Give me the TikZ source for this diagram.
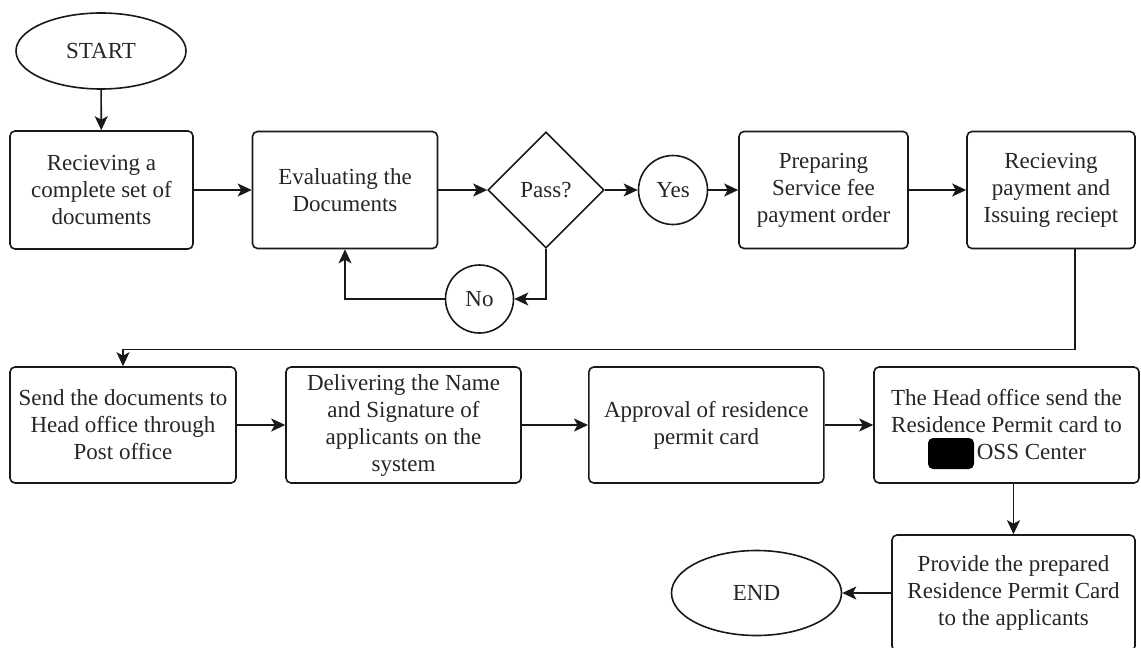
\documentclass[tikz,border=0pt]{standalone}
\usepackage{fontspec}
\setmainfont{Liberation Serif}
\usetikzlibrary{shapes.geometric,arrows.meta}

\begin{document}
\begin{tikzpicture}[x=1pt, y=-1pt,
  every node/.style={font=\fontsize{23}{27}\selectfont, text=black!85, align=center, inner sep=0pt},
  stepbox/.style={draw=black!90, line width=1.6pt, rounded corners=5pt},
  terminal/.style={draw=black!90, line width=1.6pt, ellipse},
  decision/.style={draw=black!90, line width=1.6pt, diamond, minimum width=116pt, minimum height=116pt},
  answer/.style={draw=black!90, line width=1.6pt, circle},
  flow/.style={draw=black!90, line width=1.6pt, -{Stealth[length=14pt, width=13pt, inset=3.5pt]}}
]
% page frame
\clip (0,0) rectangle (1141,648);
\fill[white] (0,0) rectangle (1141,648);

% first row
\node[terminal, minimum width=170pt, minimum height=76pt] (start) at (101,51) {START};
\node[stepbox, minimum width=183pt, minimum height=118pt] (b1) at (101.5,190) {Recieving a\\complete set of\\documents};
\node[stepbox, minimum width=185pt, minimum height=117pt] (b2) at (345,190) {Evaluating the\\Documents};
\node[decision] (pass) at (546,190) {Pass?};
\node[answer, minimum size=69pt] (yes) at (673,190) {Yes};
\node[answer, minimum size=68pt] (no) at (479.5,299) {No};
\node[stepbox, minimum width=169pt, minimum height=117pt] (b3) at (823.5,190) {Preparing\\Service fee\\payment order};
\node[stepbox, minimum width=168pt, minimum height=117pt] (b4) at (1051,190) {Recieving\\payment and\\Issuing reciept};

% second row
\node[stepbox, minimum width=226pt, minimum height=116pt] (b5) at (123,425) {Send the documents to\\Head office through\\Post office};
\node[stepbox, minimum width=235pt, minimum height=116pt] (b6) at (403.5,425) {Delivering the Name\\and Signature of\\applicants on the\\system};
\node[stepbox, minimum width=235pt, minimum height=116pt] (b7) at (706.3,425) {Approval of residence\\permit card};
\node[stepbox, minimum width=265pt, minimum height=116pt] (b8) at (1006.5,425) {The Head office send the\\Residence Permit card to\\\hspace{50pt}OSS Center};
\fill[black, rounded corners=5pt] (928,438) rectangle (974,469);

% third row
\node[stepbox, minimum width=243pt, minimum height=116pt] (b9) at (1013.5,593) {Provide the prepared\\Residence Permit Card\\to the applicants};
\node[terminal, minimum width=170pt, minimum height=85pt] (end) at (756.5,593) {END};

% connectors
\draw[flow] (start) -- (b1);
\draw[flow] (b1) -- (b2);
\draw[flow] (b2) -- (pass);
\draw[flow] (pass) -- (yes);
\draw[flow] (yes) -- (b3);
\draw[flow] (b3) -- (b4);
\draw[flow] (pass.south) |- (no.east);
\draw[flow] (no.west) -| (b2.south);
\draw[flow] ([xshift=24pt]b4.south) -- ++(0,100) -| (b5.north);
\draw[flow] (b5) -- (b6);
\draw[flow] (b6) -- (b7);
\draw[flow] (b7) -- (b8);
\draw[flow] (b9.north |- b8.south) -- (b9.north);
\draw[flow] (b9.west) -- (end.east);
\end{tikzpicture}
\end{document}
